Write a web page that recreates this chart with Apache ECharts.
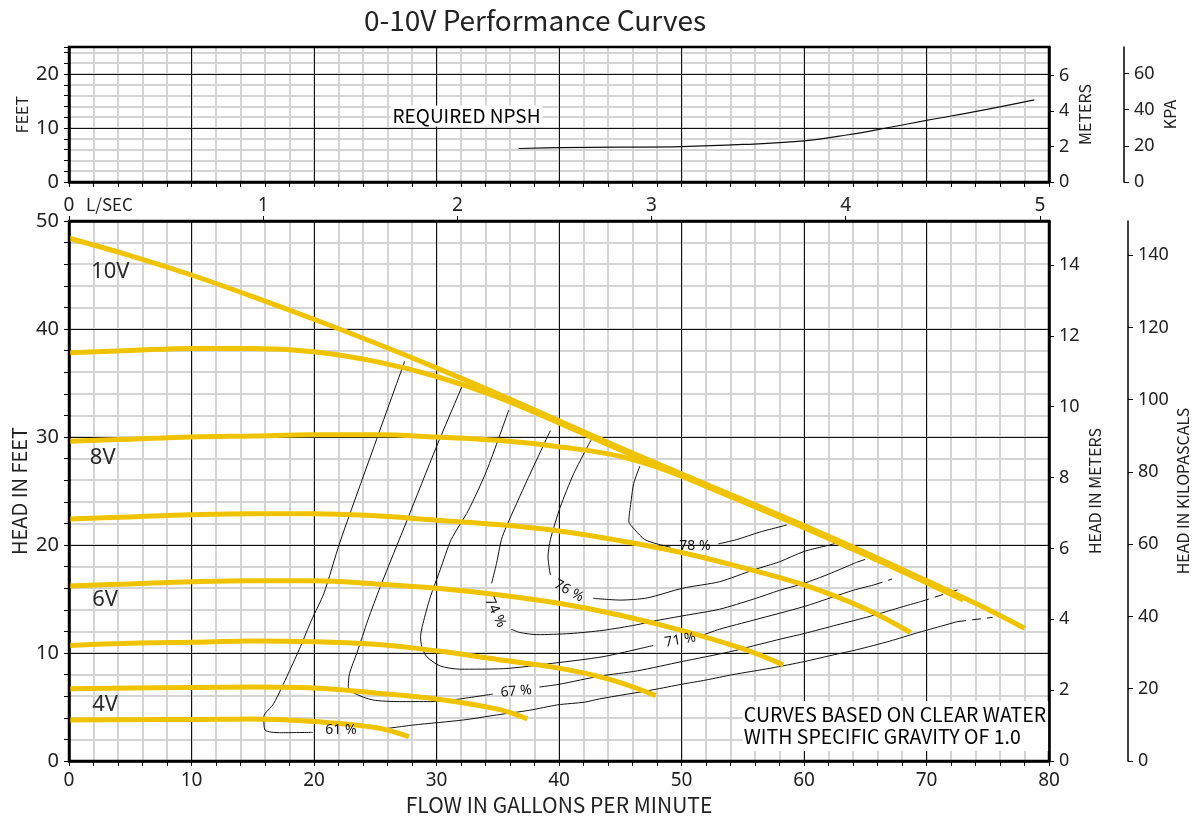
<!DOCTYPE html>
<html>
<head>
<meta charset="utf-8">
<title>0-10V Performance Curves</title>
<script src="https://cdn.jsdelivr.net/npm/echarts@6.0.0/dist/echarts.min.js"></script>
<style>
html, body { margin: 0; padding: 0; background: #fff; }
#chart { width: 1199px; height: 823px; }
</style>
</head>
<body>
<div id="chart"></div>
<script>
// pump curves: [flow gpm, head ft]
var curve10V = [[0,48.4],[5,46.8],[10,45.0],[15,43.0],[20,40.9],[25,38.7],[30,36.4],[35,34.0],[40,31.5],[45,29.0],[50,26.6],[55,24.2],[60,21.8],[65,19.3],[70,16.7],[74,14.6],[78,12.3]];
var curve9V = [[0,37.8],[5,38.0],[10,38.2],[15,38.2],[20,37.9],[25,37.0],[30,35.6],[35,33.7],[40,31.3],[45,28.8],[50,26.4],[55,24.0],[60,21.6],[65,19.1],[70,16.5],[73,14.9]];
var curve8V = [[0,29.6],[5,29.8],[10,30.0],[15,30.1],[20,30.2],[25,30.2],[30,30.0],[35,29.7],[40,29.1],[45,28.2],[50,26.4],[55,24.1],[60,21.7],[64,19.6]];
var curve7V = [[0,22.4],[5,22.6],[10,22.8],[15,22.9],[20,22.9],[25,22.7],[30,22.3],[35,21.9],[40,21.3],[45,20.4],[50,19.3],[55,17.9],[60,16.3],[65,14.1],[68.7,11.9]];
var curve6V = [[0,16.2],[5,16.4],[10,16.6],[15,16.7],[20,16.7],[25,16.4],[30,16.0],[35,15.4],[40,14.6],[45,13.5],[50,12.1],[55,10.4],[58.3,8.9]];
var curve5V = [[0,10.7],[5,10.9],[10,11.0],[15,11.1],[20,11.05],[25,10.8],[30,10.2],[35,9.4],[40,8.6],[44,7.6],[47.9,6.06]];
var curve4V = [[0,6.7],[5,6.75],[10,6.8],[15,6.85],[20,6.75],[25,6.3],[30,5.75],[35,4.8],[37.4,3.9]];
var curve3V = [[0,3.8],[5,3.83],[10,3.85],[15,3.9],[20,3.65],[25,3.1],[27.75,2.25]];

// required NPSH (top panel)
var npshCurve = [[36.7,6.2],[40,6.35],[45,6.45],[50,6.55],[55,6.95],[60,7.6],[63.6,8.75],[66.7,10.0],[70,11.4],[74.5,13.25],[78.8,15.2]];

// efficiency lines, split where the % label sits; dashed tails separate
var eff61 = [
  [[27.4,37.0],[24.8,28.8],[22.1,20.2],[20.8,15.5],[19.8,13.05],[18.9,10.6],[17.9,8.1],[16.7,5.3],[15.9,4.1],[16.0,2.87],[17.2,2.62],[19.9,2.65]],
  [[25.9,3.0],[28.1,3.33],[32.2,3.8],[34.9,4.26],[37.6,4.7],[39.9,5.2],[42.1,5.45],[43.3,5.75],[47.7,6.6],[50,7.1],[52,7.5],[54.2,8.0],[57.3,8.6],[60,9.2],[62.3,9.8],[64.3,10.3],[67,11.1],[69.2,11.85],[72.5,12.9]]
];
var eff67 = [
  [[32.2,35.0],[30,29.1],[27.6,22.3],[25.4,16.1],[24.4,13.05],[23.5,10.0],[22.9,8.1],[22.8,6.9],[23.3,6.27],[24.8,5.65],[27,5.5],[29.5,5.5],[31.6,5.7],[34.6,6.2]],
  [[38.4,6.85],[40,7.1],[43.3,7.85],[46.4,8.35],[50,9.2],[53.9,10.1],[56,10.7],[58.3,11.35],[60,11.8],[62.7,12.6],[65.4,13.4],[68.1,14.3],[69.5,14.75]]
];
var eff71 = [
  [[35.9,32.5],[34.1,26.9],[32.6,23.2],[31.2,20.5],[30.3,17.7],[29.5,15.2],[28.9,12.75],[28.7,11.5],[28.8,10.6],[29.2,9.66],[30.3,8.8],[31.9,8.5],[35.5,8.55],[39.5,9.05],[43.6,9.66],[47.7,10.7]],
  [[51.6,11.6],[53.1,12.2],[55.9,13.05],[60,14.3],[62.4,15.2],[64,15.8],[65.7,16.3]]
];
var eff74 = [
  [[39.3,30.6],[37.4,26.0],[35.7,21.7],[35.3,20.5],[34.9,18.3],[34.5,16.45]],
  [[36.1,12.2],[36.8,11.9],[38.2,11.7],[40.9,11.8],[43.6,12.1],[46.3,12.6],[47.7,12.95],[50.4,13.5],[53.1,14.05],[55.9,15.0],[58,15.8],[60,16.45],[62,17.3],[64.3,18.4]]
];
var eff76 = [
  [[42.7,29.9],[41.2,26.6],[40.1,23.5],[39.3,20.5],[39.1,18.9],[39.3,17.2]],
  [[42.8,15.06],[45,14.9],[47.2,15.1],[50.1,16.0],[53.1,16.6],[55.9,17.7],[58,18.45],[60,19.4],[62.1,20.0]]
];
var eff78 = [
  [[46.6,27.3],[46.1,25.7],[45.9,24.2],[45.7,22.2],[46.2,21.4],[47,20.5],[48,20.1],[49.1,19.8]],
  [[53,20.1],[54.5,20.5],[56.4,21.2],[58.6,21.85]]
];
var effDashed = [
  [[72.5,12.9],[75.4,13.3]],
  [[69.5,14.75],[72.7,15.9]],
  [[65.7,16.3],[67.2,16.85]],
  [[64.3,18.4],[65.6,18.9]],
  [[62.1,20.0],[63.3,20.4]]
];

var effLabels = ['61 %', '67 %', '71 %', '74 %', '76 %', '78 %'];
var effLabelAt = [[22.2,2.9],[36.5,6.45],[49.9,11.2],[34.8,13.75],[40.8,15.75],[51.1,19.9]];
var effLabelAngle = [0, 5, 10, -65, -29, 0];

var voltLabels = ['10V', '8V', '6V', '4V'];
var voltLabelAt = [[1.8,45.3],[1.7,28.1],[1.9,14.9],[1.9,5.2]];

var npshNote = 'REQUIRED NPSH';
var npshNoteAt = [32.45, 12.2];
var waterNote = 'CURVES BASED ON CLEAR WATER\nWITH SPECIFIC GRAVITY OF 1.0';
var waterNoteAt = [55.0, 3.25];

// tick labels
var lpsTicks = [0, 1, 2, 3, 4, 5];
var feetTicksTop = [0, 10, 20];
var meterTicksTop = [0, 2, 4, 6];
var kpaTicksTop = [0, 20, 40, 60];
var meterTicksMain = [0, 2, 4, 6, 8, 10, 12, 14];
var kpaTicksMain = [0, 20, 40, 60, 80, 100, 120, 140];

var FT_PER_M = 3.28084;
var KPA_PER_FT = 2.98898;
var GPM_PER_LPS = 15.8503;
var FLOW_MAX = 80, HEAD_MAX = 50, NPSH_MAX = 25;

var YELLOW = '#f0c300';
var MAJOR = { color: '#111', width: 1 };
var MINOR = { color: '#d4d4d4', width: 2 };
var NUM_FONT = "'Noto Sans', sans-serif";
var TXT_FONT = "'Noto Sans CJK SC', sans-serif";

var chart = echarts.init(document.getElementById('chart'));

function majorX(grid, showLabels, name) {
  return {
    type: 'value', gridIndex: grid, position: 'bottom', min: 0, max: FLOW_MAX, interval: 10, z: 1,
    axisLine: { show: true, lineStyle: { color: '#000', width: 2.5 } },
    axisTick: { show: false },
    axisLabel: { show: showLabels, margin: 10, color: '#222', fontSize: 19, fontFamily: NUM_FONT },
    splitLine: { show: true, lineStyle: MAJOR },
    name: name || '', nameLocation: 'middle', nameGap: 34, nameMoveOverlap: false,
    nameTextStyle: { color: '#222', fontSize: 21, fontFamily: TXT_FONT }
  };
}
function minorX(grid) {
  return {
    type: 'value', gridIndex: grid, position: 'bottom', min: 0, max: FLOW_MAX, interval: 2, z: 0,
    axisLine: { show: false },
    axisTick: { show: true, length: 5, lineStyle: { color: '#000', width: 1 } },
    axisLabel: { show: false },
    splitLine: { show: true, lineStyle: MINOR }
  };
}
function minorY(grid, max) {
  return {
    type: 'value', gridIndex: grid, position: 'left', min: 0, max: max, interval: 2, z: 0,
    axisLine: { show: false },
    axisTick: { show: true, length: 5, lineStyle: { color: '#000', width: 1 } },
    axisLabel: { show: false },
    splitLine: { show: true, lineStyle: MINOR }
  };
}
function sideY(grid, max, offset, ticks, name, nameGap, lineWidth) {
  return {
    type: 'value', gridIndex: grid, position: 'right', offset: offset, min: 0, max: max, z: 1,
    axisLine: { show: true, onZero: false, lineStyle: { color: '#000', width: lineWidth } },
    axisTick: { show: true, length: 5, customValues: ticks, lineStyle: { color: '#000', width: 1 } },
    axisLabel: { show: true, customValues: ticks, margin: 10, color: '#222', fontSize: 18, fontFamily: NUM_FONT },
    splitLine: { show: false },
    name: name, nameLocation: 'middle', nameGap: nameGap, nameMoveOverlap: false,
    nameTextStyle: { color: '#222', fontSize: 16, fontFamily: TXT_FONT }
  };
}
function textSeries(xi, yi, items, label) {
  label.show = true;
  label.opacity = 1;
  return {
    type: 'scatter', xAxisIndex: xi, yAxisIndex: yi, symbolSize: 0, silent: true, z: 6,
    itemStyle: { opacity: 1 }, emphasis: { disabled: true },
    data: items, label: label
  };
}

var series = [];

[curve10V, curve9V, curve8V, curve7V, curve6V, curve5V, curve4V, curve3V].forEach(function (c) {
  series.push({
    type: 'line', xAxisIndex: 2, yAxisIndex: 4, data: c, smooth: 0.4, symbol: 'none',
    silent: true, z: 4, lineStyle: { color: YELLOW, width: 5, cap: 'butt' }
  });
});

[eff61, eff67, eff71, eff74, eff76, eff78].forEach(function (segs) {
  segs.forEach(function (seg) {
    series.push({
      type: 'line', xAxisIndex: 2, yAxisIndex: 4, data: seg, smooth: 0.25, symbol: 'none',
      silent: true, z: 3, lineStyle: { color: '#111', width: 1 }
    });
  });
});
effDashed.forEach(function (seg) {
  series.push({
    type: 'line', xAxisIndex: 2, yAxisIndex: 4, data: seg, symbol: 'none',
    silent: true, z: 3, lineStyle: { color: '#111', width: 1, type: [9, 6] }
  });
});

series.push(textSeries(2, 4, effLabels.map(function (t, i) {
  return { value: effLabelAt[i], label: { formatter: t, rotate: effLabelAngle[i] } };
}), { position: 'inside', color: '#111', fontSize: 14, fontFamily: NUM_FONT }));

series.push(textSeries(2, 4, voltLabels.map(function (t, i) {
  return { value: voltLabelAt[i], label: { formatter: t } };
}), { position: 'right', distance: 0, color: '#2a2a2a', fontSize: 22, fontFamily: NUM_FONT }));

series.push(textSeries(2, 4, [{ value: waterNoteAt, label: { formatter: waterNote } }], {
  position: 'right', distance: 0, color: '#000', fontSize: 19.5, lineHeight: 22,
  fontFamily: TXT_FONT, backgroundColor: '#fff', padding: [3, 2, 3, 1]
}));

series.push({
  type: 'line', xAxisIndex: 0, yAxisIndex: 0, data: npshCurve, smooth: 0.4, symbol: 'none',
  silent: true, z: 3, lineStyle: { color: '#111', width: 1.2 }
});
series.push(textSeries(0, 0, [{ value: npshNoteAt, label: { formatter: npshNote } }], {
  position: 'inside', color: '#000', fontSize: 19, fontFamily: TXT_FONT,
  backgroundColor: '#fff', padding: [1, 2, 1, 2]
}));

var option = {
  animation: false,
  backgroundColor: '#fff',
  grid: [
    { left: 69, top: 47, width: 980, height: 135, show: true, z: 5, borderColor: '#000', borderWidth: 2.5, backgroundColor: 'transparent', outerBoundsMode: 'none' },
    { left: 69, top: 221, width: 980, height: 540, show: true, z: 5, borderColor: '#000', borderWidth: 2.5, backgroundColor: 'transparent', outerBoundsMode: 'none' }
  ],
  xAxis: [
    majorX(0, false),
    minorX(0),
    majorX(1, true, 'FLOW IN GALLONS PER MINUTE'),
    minorX(1),
    {
      type: 'value', gridIndex: 1, position: 'top', min: 0, max: FLOW_MAX / GPM_PER_LPS, z: 1,
      axisLine: { show: true, onZero: false, lineStyle: { color: '#000', width: 2.5 } },
      axisTick: { show: true, length: 5, customValues: lpsTicks, lineStyle: { color: '#000', width: 1 } },
      axisLabel: { show: true, customValues: lpsTicks, margin: 6, color: '#222', fontSize: 19, fontFamily: NUM_FONT },
      splitLine: { show: false }
    }
  ],
  yAxis: [
    {
      type: 'value', gridIndex: 0, position: 'left', min: 0, max: NPSH_MAX, interval: 10, z: 1,
      axisLine: { show: true, lineStyle: { color: '#000', width: 2.5 } },
      axisTick: { show: false },
      axisLabel: { show: true, customValues: feetTicksTop, margin: 10, color: '#222', fontSize: 20, fontFamily: NUM_FONT },
      splitLine: { show: true, lineStyle: MAJOR },
      name: 'FEET', nameLocation: 'middle', nameGap: 39, nameMoveOverlap: false,
      nameTextStyle: { color: '#222', fontSize: 16, fontFamily: TXT_FONT }
    },
    minorY(0, NPSH_MAX),
    sideY(0, NPSH_MAX / FT_PER_M, 0, meterTicksTop, 'METERS', 28, 2.5),
    sideY(0, NPSH_MAX * KPA_PER_FT, 75, kpaTicksTop, 'KPA', 38, 1.5),
    {
      type: 'value', gridIndex: 1, position: 'left', min: 0, max: HEAD_MAX, interval: 10, z: 1,
      axisLine: { show: true, lineStyle: { color: '#000', width: 2.5 } },
      axisTick: { show: false },
      axisLabel: { show: true, margin: 10, color: '#222', fontSize: 20, fontFamily: NUM_FONT },
      splitLine: { show: true, lineStyle: MAJOR },
      name: 'HEAD IN FEET', nameLocation: 'middle', nameGap: 40, nameMoveOverlap: false,
      nameTextStyle: { color: '#222', fontSize: 20, fontFamily: TXT_FONT }
    },
    minorY(1, HEAD_MAX),
    sideY(1, HEAD_MAX / FT_PER_M, 0, meterTicksMain, 'HEAD IN METERS', 38, 2.5),
    sideY(1, HEAD_MAX * KPA_PER_FT, 79, kpaTicksMain, 'HEAD IN KILOPASCALS', 47, 1.5)
  ],
  graphic: [
    { type: 'text', x: 535, y: 20, style: { text: '0-10V Performance Curves', fill: '#222', font: "28px 'Noto Sans CJK SC', sans-serif", textAlign: 'center', textVerticalAlign: 'middle' } },
    { type: 'text', x: 86, y: 205, style: { text: 'L/SEC', fill: '#222', font: "17px 'Noto Sans CJK SC', sans-serif", textAlign: 'left', textVerticalAlign: 'middle' } }
  ],
  series: series
};

chart.setOption(option);
</script>
</body>
</html>
